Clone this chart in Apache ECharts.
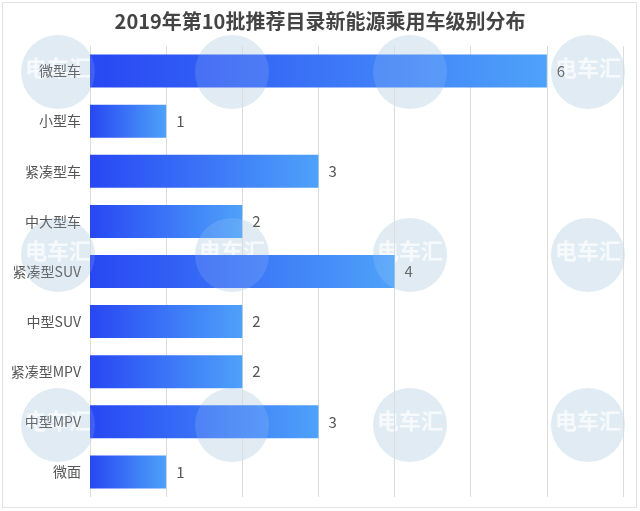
<!DOCTYPE html>
<html><head><meta charset="utf-8">
<script src="https://cdn.jsdelivr.net/npm/echarts@6/dist/echarts.min.js"></script>
<style>html,body{margin:0;padding:0;background:#fff}#c{width:640px;height:511px}</style>
</head><body><div id="c"></div>
<script>
const categories = ['微型车','小型车','紧凑型车','中大型车','紧凑型SUV','中型SUV','紧凑型MPV','中型MPV','微面'];
const values = [6,1,3,2,4,2,2,3,1];
const titleText = '2019年第10批推荐目录新能源乘用车级别分布';
const font = '"Noto Sans CJK SC","Noto Sans",sans-serif';

const wmPos = [[58,72],[232,72],[410,72],[588,72],[58,255],[232,255],[410,255],[588,255],[58,425],[232,425],[410,425],[588,425]];
const graphics = [{type:'rect',shape:{x:2.5,y:2.5,width:634,height:505},style:{fill:'none',stroke:'#e2e2e2',lineWidth:1},silent:true,z:-10}];
wmPos.forEach(p=>{
  graphics.push({type:'circle',shape:{cx:p[0],cy:p[1],r:37},style:{fill:'#e4edf5'},z:-5,silent:true});
  graphics.push({type:'text',x:p[0],y:p[1]-4,style:{text:'电车汇',fill:'rgba(255,255,255,0.9)',font:'bold 22px '+font,textAlign:'center',textVerticalAlign:'middle'},z:-4,silent:true});
  graphics.push({type:'circle',shape:{cx:p[0],cy:p[1],r:37},style:{fill:'rgba(210,225,240,0.15)'},z:50,silent:true});
});

const chart = echarts.init(document.getElementById('c'));
chart.setOption({
  animation:false,
  title:{text:titleText,left:'center',top:6,textStyle:{fontFamily:font,fontSize:20,fontWeight:'bold',color:'#444'}},
  grid:{left:90,right:17,top:46,bottom:14,containLabel:false},
  xAxis:{type:'value',min:0,max:7,interval:1,axisLabel:{show:false},axisLine:{show:false},axisTick:{show:false},
    splitLine:{show:true,lineStyle:{color:'#dcdcdc',width:1}}},
  yAxis:{type:'category',data:categories,inverse:true,axisLine:{show:false},axisTick:{show:false},
    axisLabel:{margin:9,fontFamily:font,fontSize:14,color:'#555'}},
  series:[{type:'bar',data:values,barWidth:33,z:2,
    itemStyle:{color:new echarts.graphic.LinearGradient(0,0,1,0,[{offset:0,color:'#2747f3'},{offset:1,color:'#4ea2fa'}])},
    label:{show:true,position:'right',distance:10,fontFamily:font,fontSize:15,color:'#555'}}],
  graphic:graphics
});
</script></body></html>
